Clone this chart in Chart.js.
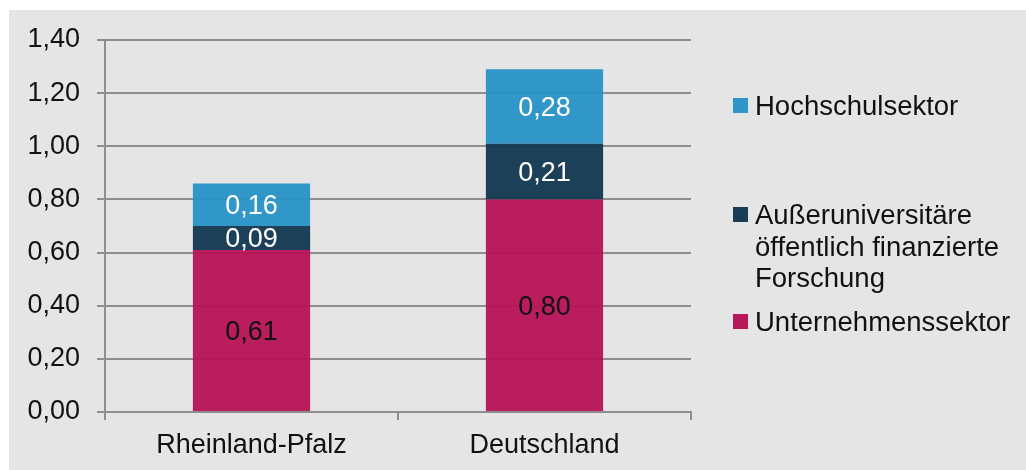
<!DOCTYPE html>
<html>
<head>
<meta charset="utf-8">
<script src="https://cdn.jsdelivr.net/npm/chart.js@4.4.1/dist/chart.umd.min.js"></script>
<style>
  html, body { margin: 0; padding: 0; background: #ffffff; }
  #wrap { position: relative; width: 1026px; height: 470px; overflow: hidden; }
  #bg { position: absolute; left: 9px; top: 10px; width: 1017px; height: 460px; background: #e5e5e5; }
  #c { position: absolute; left: 0; top: 0; }
  .legend { position: absolute; left: 733px; font-family: "Liberation Sans", Arial, sans-serif; font-size: 27.5px; color: #111; }
  .item { position: absolute; left: 0; white-space: nowrap; }
  .sw { position: absolute; left: 0; width: 15px; height: 15px; }
  .txt { position: absolute; left: 22px; line-height: 31.5px; }
</style>
</head>
<body>
<div id="wrap">
  <div id="bg"></div>
  <canvas id="c" width="1026" height="470"></canvas>
  <div class="legend" id="legend"></div>
</div>
<script>
const categories = ["Rheinland-Pfalz", "Deutschland"];
const seriesNames = ["Unternehmenssektor", "Außeruniversitäre öffentlich finanzierte Forschung", "Hochschulsektor"];
const unternehmen = [0.61, 0.80];
const ausseruni = [0.09, 0.21];
const hochschul = [0.16, 0.28];
const yTicks = [0, 0.2, 0.4, 0.6, 0.8, 1.0, 1.2, 1.4];

const colors = ["rgba(184,22,88,0.97)", "rgba(22,58,84,0.97)", "rgba(42,147,198,0.97)"];
const solid = ["rgb(184,24,90)", "rgb(26,61,86)", "rgb(46,150,200)"];
const labelColors = ["#111111", "#ffffff", "#ffffff"];

const fmt = v => v.toFixed(2).replace(".", ",");
const FONT = '"Liberation Sans", Arial, sans-serif';

const barLabels = {
  id: "barLabels",
  afterDatasetsDraw(chart) {
    const ctx = chart.ctx;
    ctx.save();
    ctx.font = '27px ' + FONT;
    ctx.textAlign = "center";
    ctx.textBaseline = "middle";
    chart.data.datasets.forEach((ds, di) => {
      const meta = chart.getDatasetMeta(di);
      meta.data.forEach((el, i) => {
        const p = el.getCenterPoint();
        ctx.fillStyle = labelColors[di];
        ctx.fillText(fmt(ds.data[i]), p.x, p.y + 2);
      });
    });
    ctx.restore();
  }
};

const gridColor = "#8e8e8e";

new Chart(document.getElementById("c"), {
  type: "bar",
  data: {
    labels: categories,
    datasets: [
      { label: seriesNames[0], data: unternehmen, backgroundColor: colors[0] },
      { label: seriesNames[1], data: ausseruni, backgroundColor: colors[1] },
      { label: seriesNames[2], data: hochschul, backgroundColor: colors[2] }
    ]
  },
  options: {
    responsive: false,
    animation: false,
    layout: { padding: { top: 40, right: 335, bottom: 0, left: 0 } },
    datasets: { bar: { categoryPercentage: 0.4, barPercentage: 1.0, borderWidth: 0 } },
    plugins: { legend: { display: false }, tooltip: { enabled: false } },
    scales: {
      x: {
        stacked: true,
        grid: { display: true, drawOnChartArea: false, drawTicks: true, tickLength: 8, color: gridColor, lineWidth: 2, offset: true },
        border: { display: true, color: gridColor, width: 2 },
        ticks: { color: "#111", font: { family: FONT, size: 27 }, padding: 9, maxRotation: 0 },
        afterFit(s) { s.height = 58; }
      },
      y: {
        stacked: true,
        min: 0, max: 1.4,
        afterBuildTicks(s) { s.ticks = yTicks.map(v => ({ value: v })); },
        grid: { display: true, drawTicks: true, tickLength: 8, color: gridColor, lineWidth: 2 },
        border: { display: true, color: gridColor, width: 2 },
        ticks: { color: "#111", font: { family: FONT, size: 27 }, padding: 17, callback: v => fmt(v) },
        afterFit(s) { s.width = 105; }
      }
    }
  },
  plugins: [barLabels]
});

// HTML legend
const legendItems = [
  { lines: ["Hochschulsektor"], color: solid[2], top: 98 },
  { lines: ["Außeruniversitäre", "öffentlich finanzierte", "Forschung"], color: solid[1], top: 207 },
  { lines: ["Unternehmenssektor"], color: solid[0], top: 314 }
];
const lg = document.getElementById("legend");
legendItems.forEach(it => {
  const d = document.createElement("div");
  d.className = "item";
  d.style.top = it.top + "px";
  const sw = document.createElement("div");
  sw.className = "sw";
  sw.style.background = it.color;
  sw.style.top = "0px";
  d.appendChild(sw);
  const t = document.createElement("div");
  t.className = "txt";
  t.style.top = "-8px";
  t.innerHTML = it.lines.join("<br>");
  d.appendChild(t);
  lg.appendChild(d);
});
</script>
</body>
</html>
